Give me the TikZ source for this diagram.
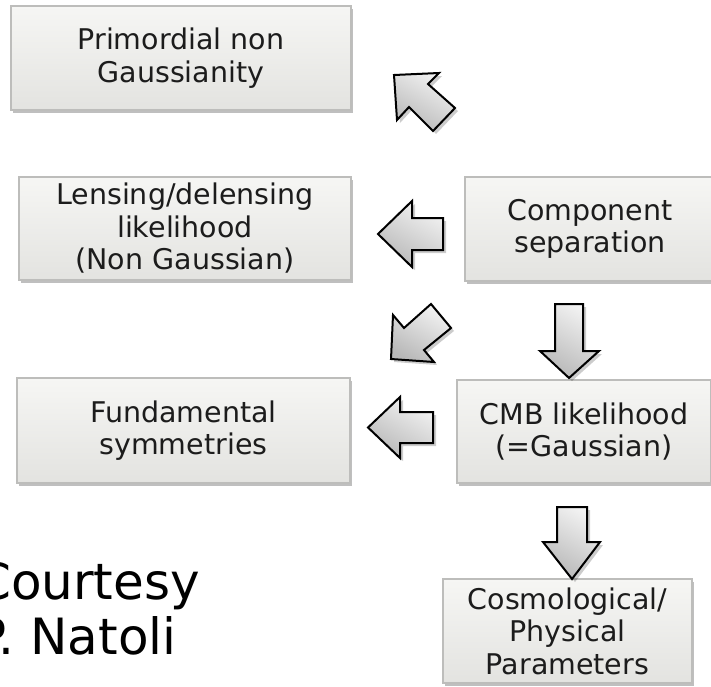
\documentclass[tikz,border=0pt]{standalone}
\usepackage{fontspec}
\setmainfont{DejaVu Sans}
\usetikzlibrary{shadows}
\definecolor{boxtop}{HTML}{F6F6F4}
\definecolor{boxbot}{HTML}{E3E3E0}
\definecolor{boxline}{HTML}{BDBDBB}
\definecolor{txt}{HTML}{1C1C1C}
\definecolor{arrtop}{HTML}{F2F2F2}
\definecolor{arrbot}{HTML}{B8B8B8}
\tikzset{
  box/.style={rectangle, draw=boxline, line width=2pt, top color=boxtop, bottom color=boxbot,
    align=center, text=txt, inner sep=0pt,
    font=\fontsize{28.5}{32.5}\selectfont,
    drop shadow={shadow xshift=2pt, shadow yshift=-3pt, opacity=0.25, fill=black}},
  blockarrow/.style={draw=black, line width=2pt, line join=miter,
    shading=axis, top color=arrtop, bottom color=arrbot, shading angle=-30,
    drop shadow={shadow xshift=3pt, shadow yshift=-3pt, opacity=0.2, fill=black}},
  courtesy/.style={align=left, anchor=north west, inner sep=0pt, text=black,
    font=\fontsize{50}{55}\selectfont}
}
\begin{document}
\begin{tikzpicture}[x=1pt,y=-1pt]
\clip (0,0) rectangle (711,686);
\fill[white] (0,0) rectangle (711,686);
% boxes
\node[box, minimum width=340pt, minimum height=104pt] (prim) at (181,58) {Primordial non\\Gaussianity};
\node[box, minimum width=332pt, minimum height=103pt] (lens) at (185,228.5) {Lensing/delensing\\likelihood\\(Non Gaussian)};
\node[box, minimum width=250pt, minimum height=104pt] (comp) at (590,229) {Component\\separation};
\node[box, minimum width=333pt, minimum height=105pt] (fund) at (183.5,430.5) {Fundamental\\symmetries};
\node[box, minimum width=254pt, minimum height=103pt] (cmb) at (584,431.5) {CMB likelihood\\(=Gaussian)};
\node[box, minimum width=249pt, minimum height=104pt] (cosmo) at (567.5,631) {Cosmological/\\Physical\\Parameters};
% block arrows
\draw[blockarrow] (394,75) -- (439,73) -- (428,84) -- (455,108) -- (433,131) -- (409,107) -- (397,120) -- cycle;
\draw[blockarrow] (378,234) -- (412,201) -- (412,218) -- (443,218) -- (443,250) -- (412,250) -- (412,267) -- cycle;
\draw[blockarrow] (391,359) -- (393,315) -- (404,328) -- (431,304) -- (451,328) -- (424,350) -- (434,362) -- cycle;
\draw[blockarrow] (555,304) -- (583,304) -- (583,351) -- (599,351) -- (569,378) -- (540,351) -- (555,351) -- cycle;
\draw[blockarrow] (368,427.5) -- (400,397) -- (400,412) -- (433,412) -- (433,443) -- (400,443) -- (400,458) -- cycle;
\draw[blockarrow] (557,507) -- (587,507) -- (587,542) -- (600,542) -- (572,579) -- (543,542) -- (557,542) -- cycle;
% courtesy
\node[courtesy] (cred) at (-24,562) {Courtesy\\P. Natoli};
\end{tikzpicture}
\end{document}
